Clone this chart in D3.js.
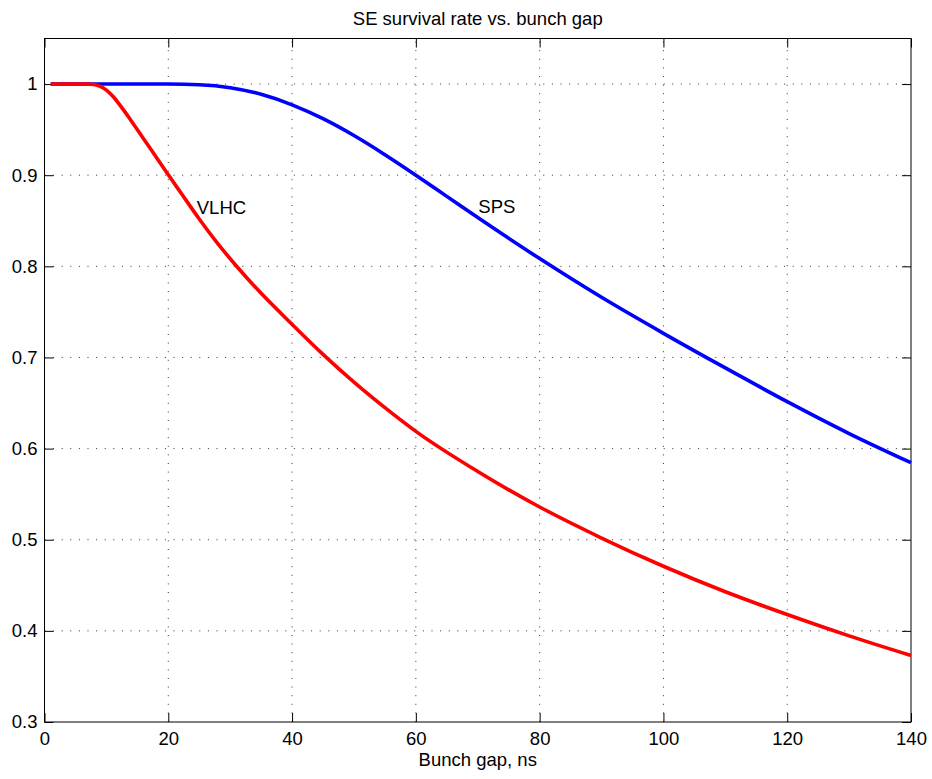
<!DOCTYPE html>
<html><head><meta charset="utf-8">
<script src="https://cdn.jsdelivr.net/npm/d3@7"></script>
<style>
html,body{margin:0;padding:0;background:#fff;}
svg{display:block;}
text{font-family:"Liberation Sans",Arial,Helvetica,sans-serif;fill:#000;}
</style></head>
<body>
<svg id="chart" width="932" height="779"></svg>
<script>
const titleText = "SE survival rate vs. bunch gap";
const xLabelText = "Bunch gap, ns";
const xTicks = [0, 20, 40, 60, 80, 100, 120, 140];
const yTicks = [0.3, 0.4, 0.5, 0.6, 0.7, 0.8, 0.9, 1];
const yTickLabels = ["0.3", "0.4", "0.5", "0.6", "0.7", "0.8", "0.9", "1"];

const vlhcX = [1, 5, 7, 8, 9, 10, 11, 12, 13, 14, 16, 18, 20, 22, 25, 28, 31, 35, 40, 45, 50, 55, 60, 70, 80, 90, 100, 110, 120, 130, 140];
const vlhcY = [1.0, 1.0, 1.0, 0.9995, 0.9975, 0.9933, 0.9868, 0.9786, 0.9695, 0.9598, 0.9401, 0.9203, 0.9005, 0.881, 0.852, 0.825, 0.8004, 0.7704, 0.7364, 0.7034, 0.6729, 0.6449, 0.6189, 0.5749, 0.5359, 0.5019, 0.4709, 0.4429, 0.4179, 0.3945, 0.373];

const spsX = [1, 10, 20, 25, 30, 35, 40, 45, 50, 55, 60, 65, 70, 80, 90, 100, 110, 120, 130, 140];
const spsY = [1.0, 1.0, 1.0, 0.99925, 0.996, 0.98875, 0.97725, 0.962, 0.9435, 0.9225, 0.900, 0.87675, 0.8535, 0.8085, 0.766, 0.7265, 0.6885, 0.6515, 0.6165, 0.5845];

const labels = [
  {text: "VLHC", x: 24.6, y: 0.864},
  {text: "SPS", x: 70.1, y: 0.866}
];

const L = 44.5, R = 911, T = 38.5, B = 722;
const svg = d3.select("#chart");
const x = d3.scaleLinear().domain([0, 140]).range([L, R]);
const y = d3.scaleLinear().domain([0.3, 1.05]).range([B, T]);
const fs = "18.5px";

// grid
const grid = svg.append("g");
xTicks.filter(d => d > 0 && d < 140).forEach(d => {
  grid.append("line").attr("x1", x(d)).attr("x2", x(d)).attr("y1", B).attr("y2", T)
    .attr("stroke", "#333").attr("stroke-width", 1).attr("stroke-dasharray", "1,7.6");
});
yTicks.filter(d => d > 0.3).forEach(d => {
  grid.append("line").attr("x1", L).attr("x2", R).attr("y1", y(d)).attr("y2", y(d))
    .attr("stroke", "#333").attr("stroke-width", 1).attr("stroke-dasharray", "1,7.6");
});

// axes
const tl = 9;
const xAxisB = d3.axisBottom(x).tickValues(xTicks).tickSize(-tl).tickPadding(10).tickFormat(d3.format("d"));
const xAxisT = d3.axisTop(x).tickValues(xTicks).tickSize(-tl).tickFormat("");
const yAxisL = d3.axisLeft(y).tickValues(yTicks).tickSize(-tl).tickPadding(7).tickFormat((d, i) => yTickLabels[i]);
const yAxisR = d3.axisRight(y).tickValues(yTicks).tickSize(-tl).tickFormat("");

function style(g) {
  g.select(".domain").remove();
  g.selectAll("line").attr("stroke", "#000").attr("stroke-width", 1);
  g.selectAll("text").style("font-size", fs).attr("fill", "#000");
}
svg.append("g").attr("transform", `translate(0,${B})`).call(xAxisB).call(style);
svg.append("g").attr("transform", `translate(0,${T})`).call(xAxisT).call(style);
svg.append("g").attr("transform", `translate(${L},0)`).call(yAxisL).call(style);
svg.append("g").attr("transform", `translate(${R},0)`).call(yAxisR).call(style);

svg.append("rect").attr("x", L).attr("y", T).attr("width", R - L).attr("height", B - T)
  .attr("fill", "none").attr("stroke", "#000").attr("stroke-width", 1);

// lines
const line = d3.line().x(d => x(d[0])).y(d => y(d[1])).curve(d3.curveMonotoneX);
svg.append("path").datum(spsX.map((v, i) => [v, spsY[i]]))
  .attr("d", line).attr("fill", "none").attr("stroke", "#0000ff").attr("stroke-width", 3.6);
svg.append("path").datum(vlhcX.map((v, i) => [v, vlhcY[i]]))
  .attr("d", line).attr("fill", "none").attr("stroke", "#ff0000").attr("stroke-width", 3.6);

// labels
labels.forEach(l => {
  svg.append("text").attr("x", x(l.x)).attr("y", y(l.y)).attr("dy", "0.35em")
    .style("font-size", fs).text(l.text);
});

svg.append("text").attr("x", (L + R) / 2).attr("y", 25).attr("text-anchor", "middle")
  .style("font-size", fs).text(titleText);
svg.append("text").attr("x", (L + R) / 2).attr("y", 766).attr("text-anchor", "middle")
  .style("font-size", fs).text(xLabelText);
</script>
</body></html>
